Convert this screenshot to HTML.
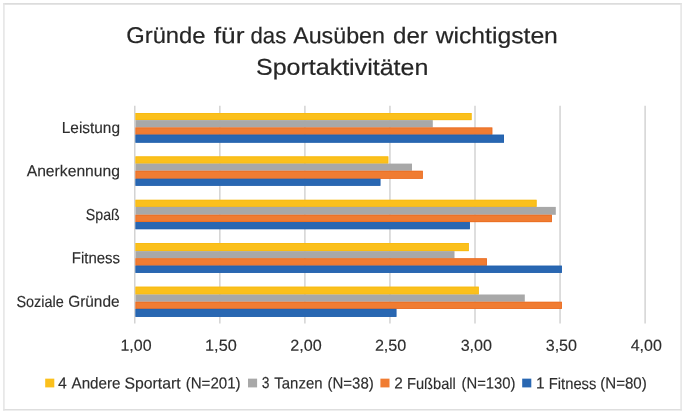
<!DOCTYPE html>
<html lang="de"><head><meta charset="utf-8"><title>Gründe für das Ausüben der wichtigsten Sportaktivitäten</title>
<style>
html,body{margin:0;padding:0;background:#fff;}
body{width:685px;height:414px;overflow:hidden;}
svg{display:block;}
text{font-family:"Liberation Sans",sans-serif;fill:#2d2d2d;stroke:#2d2d2d;stroke-width:0.15px;}
.t{font-size:22.8px;fill:#262626;stroke:#262626;stroke-width:0.2px;}
.l{font-size:15.85px;}
</style></head><body>
<svg width="685" height="414" viewBox="0 0 685 414">
<rect x="0" y="0" width="685" height="414" fill="#fff"/>
<g fill="none" stroke-linecap="square">
<line x1="3.9" y1="3.9" x2="681.1" y2="3.9" stroke="#dcdcdc" stroke-width="1.6"/>
<line x1="3.9" y1="409.8" x2="681.1" y2="409.8" stroke="#dedede" stroke-width="1.6"/>
<line x1="3.9" y1="3.9" x2="3.9" y2="409.8" stroke="#e4e4e4" stroke-width="1.5"/>
<line x1="681.1" y1="3.9" x2="681.1" y2="409.8" stroke="#e4e4e4" stroke-width="1.5"/>
</g>
<line x1="134.80" y1="105.8" x2="134.80" y2="323.4" stroke="#cccccc" stroke-width="1.3"/>
<line x1="219.85" y1="105.8" x2="219.85" y2="323.4" stroke="#cccccc" stroke-width="1.3"/>
<line x1="304.90" y1="105.8" x2="304.90" y2="323.4" stroke="#cccccc" stroke-width="1.3"/>
<line x1="389.95" y1="105.8" x2="389.95" y2="323.4" stroke="#cccccc" stroke-width="1.3"/>
<line x1="475.00" y1="105.8" x2="475.00" y2="323.4" stroke="#cccccc" stroke-width="1.3"/>
<line x1="560.05" y1="105.8" x2="560.05" y2="323.4" stroke="#cccccc" stroke-width="1.3"/>
<line x1="645.10" y1="105.8" x2="645.10" y2="323.4" stroke="#cccccc" stroke-width="1.3"/>
<rect x="135.5" y="113.00" width="336.1" height="7.10" fill="#FBC01C"/>
<rect x="135.9" y="113.40" width="335.3" height="6.30" fill="none" stroke="#F5B70C" stroke-width="0.8" stroke-opacity="0.75"/>
<rect x="135.5" y="120.10" width="297.3" height="7.40" fill="#A8A8A8"/>
<rect x="135.5" y="127.50" width="356.8" height="7.20" fill="#F07C32"/>
<rect x="135.9" y="127.90" width="356.0" height="6.40" fill="none" stroke="#E7671C" stroke-width="0.8" stroke-opacity="0.75"/>
<rect x="135.5" y="134.70" width="368.5" height="8.00" fill="#2967B2"/>
<rect x="135.9" y="135.10" width="367.7" height="7.20" fill="none" stroke="#2160AC" stroke-width="0.8" stroke-opacity="0.75"/>
<rect x="135.5" y="156.40" width="252.8" height="7.20" fill="#FBC01C"/>
<rect x="135.9" y="156.80" width="252.0" height="6.40" fill="none" stroke="#F5B70C" stroke-width="0.8" stroke-opacity="0.75"/>
<rect x="135.5" y="163.60" width="276.5" height="7.20" fill="#A8A8A8"/>
<rect x="135.5" y="170.80" width="287.3" height="8.00" fill="#F07C32"/>
<rect x="135.9" y="171.20" width="286.5" height="7.20" fill="none" stroke="#E7671C" stroke-width="0.8" stroke-opacity="0.75"/>
<rect x="135.5" y="178.80" width="244.9" height="7.00" fill="#2967B2"/>
<rect x="135.9" y="179.20" width="244.1" height="6.20" fill="none" stroke="#2160AC" stroke-width="0.8" stroke-opacity="0.75"/>
<rect x="135.5" y="199.80" width="401.1" height="7.10" fill="#FBC01C"/>
<rect x="135.9" y="200.20" width="400.3" height="6.30" fill="none" stroke="#F5B70C" stroke-width="0.8" stroke-opacity="0.75"/>
<rect x="135.5" y="206.90" width="420.3" height="7.90" fill="#A8A8A8"/>
<rect x="135.5" y="214.80" width="416.4" height="7.30" fill="#F07C32"/>
<rect x="135.9" y="215.20" width="415.6" height="6.50" fill="none" stroke="#E7671C" stroke-width="0.8" stroke-opacity="0.75"/>
<rect x="135.5" y="222.10" width="334.4" height="7.10" fill="#2967B2"/>
<rect x="135.9" y="222.50" width="333.6" height="6.30" fill="none" stroke="#2160AC" stroke-width="0.8" stroke-opacity="0.75"/>
<rect x="135.5" y="243.00" width="333.3" height="8.10" fill="#FBC01C"/>
<rect x="135.9" y="243.40" width="332.5" height="7.30" fill="none" stroke="#F5B70C" stroke-width="0.8" stroke-opacity="0.75"/>
<rect x="135.5" y="251.10" width="319.0" height="7.20" fill="#A8A8A8"/>
<rect x="135.5" y="258.30" width="351.4" height="7.40" fill="#F07C32"/>
<rect x="135.9" y="258.70" width="350.6" height="6.60" fill="none" stroke="#E7671C" stroke-width="0.8" stroke-opacity="0.75"/>
<rect x="135.5" y="265.70" width="426.4" height="7.20" fill="#2967B2"/>
<rect x="135.9" y="266.10" width="425.6" height="6.40" fill="none" stroke="#2160AC" stroke-width="0.8" stroke-opacity="0.75"/>
<rect x="135.5" y="286.70" width="343.3" height="7.80" fill="#FBC01C"/>
<rect x="135.9" y="287.10" width="342.5" height="7.00" fill="none" stroke="#F5B70C" stroke-width="0.8" stroke-opacity="0.75"/>
<rect x="135.5" y="294.50" width="389.3" height="7.30" fill="#A8A8A8"/>
<rect x="135.5" y="301.80" width="426.4" height="7.10" fill="#F07C32"/>
<rect x="135.9" y="302.20" width="425.6" height="6.30" fill="none" stroke="#E7671C" stroke-width="0.8" stroke-opacity="0.75"/>
<rect x="135.5" y="308.90" width="260.9" height="8.00" fill="#2967B2"/>
<rect x="135.9" y="309.30" width="260.1" height="7.20" fill="none" stroke="#2160AC" stroke-width="0.8" stroke-opacity="0.75"/>
<rect x="45.2" y="378.65" width="9.1" height="8.75" fill="#FBC01C"/>
<rect x="248.0" y="378.65" width="9.1" height="8.75" fill="#A8A8A8"/>
<rect x="380.4" y="378.65" width="9.1" height="8.75" fill="#F07C32"/>
<rect x="522.2" y="378.65" width="9.1" height="8.75" fill="#2967B2"/>
<text class="t" y="43.10" transform="rotate(0.03 127 43)"><tspan x="126.27" textLength="79.26" lengthAdjust="spacingAndGlyphs">Gründe</tspan> <tspan x="213.74" textLength="30.71" lengthAdjust="spacingAndGlyphs">für</tspan> <tspan x="250.51" textLength="35.71" lengthAdjust="spacingAndGlyphs">das</tspan> <tspan x="293.20" textLength="91.77" lengthAdjust="spacingAndGlyphs">Ausüben</tspan> <tspan x="393.02" textLength="34.74" lengthAdjust="spacingAndGlyphs">der</tspan> <tspan x="435.70" textLength="122.17" lengthAdjust="spacingAndGlyphs">wichtigsten</tspan></text>
<text class="t" y="74.85" transform="rotate(0.03 257 75)"><tspan x="255.99" textLength="172.33" lengthAdjust="spacingAndGlyphs">Sportaktivitäten</tspan></text>
<text class="l" y="132.90" transform="rotate(0.03 63 133)"><tspan x="61.76" textLength="58.27" lengthAdjust="spacingAndGlyphs">Leistung</tspan></text>
<text class="l" y="176.33" transform="rotate(0.03 27 176)"><tspan x="26.70" textLength="93.31" lengthAdjust="spacingAndGlyphs">Anerkennung</tspan></text>
<text class="l" y="219.76" transform="rotate(0.03 86 220)"><tspan x="85.83" textLength="33.90" lengthAdjust="spacingAndGlyphs">Spaß</tspan></text>
<text class="l" y="263.19" transform="rotate(0.03 73 263)"><tspan x="71.76" textLength="48.26" lengthAdjust="spacingAndGlyphs">Fitness</tspan></text>
<text class="l" y="306.62" transform="rotate(0.03 17 307)"><tspan x="16.38" textLength="47.33" lengthAdjust="spacingAndGlyphs">Soziale</tspan> <tspan x="68.23" textLength="51.34" lengthAdjust="spacingAndGlyphs">Gründe</tspan></text>
<text class="l" y="350.80" transform="rotate(0.03 122 351)"><tspan x="120.45" textLength="31.08" lengthAdjust="spacingAndGlyphs">1,00</tspan></text>
<text class="l" y="350.80" transform="rotate(0.03 206 351)"><tspan x="205.09" textLength="31.65" lengthAdjust="spacingAndGlyphs">1,50</tspan></text>
<text class="l" y="350.80" transform="rotate(0.03 291 351)"><tspan x="290.27" textLength="31.45" lengthAdjust="spacingAndGlyphs">2,00</tspan></text>
<text class="l" y="350.80" transform="rotate(0.03 376 351)"><tspan x="374.88" textLength="31.45" lengthAdjust="spacingAndGlyphs">2,50</tspan></text>
<text class="l" y="350.80" transform="rotate(0.03 461 351)"><tspan x="460.63" textLength="31.39" lengthAdjust="spacingAndGlyphs">3,00</tspan></text>
<text class="l" y="350.80" transform="rotate(0.03 546 351)"><tspan x="545.68" textLength="31.34" lengthAdjust="spacingAndGlyphs">3,50</tspan></text>
<text class="l" y="350.80" transform="rotate(0.03 631 351)"><tspan x="630.74" textLength="31.12" lengthAdjust="spacingAndGlyphs">4,00</tspan></text>
<text class="l" y="388.50" transform="rotate(0.03 58 388)"><tspan x="58.03" textLength="8.82" lengthAdjust="spacingAndGlyphs">4</tspan> <tspan x="71.50" textLength="49.06" lengthAdjust="spacingAndGlyphs">Andere</tspan> <tspan x="124.44" textLength="56.11" lengthAdjust="spacingAndGlyphs">Sportart</tspan> <tspan x="185.67" textLength="54.96" lengthAdjust="spacingAndGlyphs">(N=201)</tspan></text>
<text class="l" y="388.50" transform="rotate(0.03 262 388)"><tspan x="261.86" textLength="7.71" lengthAdjust="spacingAndGlyphs">3</tspan> <tspan x="274.30" textLength="48.22" lengthAdjust="spacingAndGlyphs">Tanzen</tspan> <tspan x="327.51" textLength="46.32" lengthAdjust="spacingAndGlyphs">(N=38)</tspan></text>
<text class="l" y="388.50" transform="rotate(0.03 395 388)"><tspan x="394.18" textLength="8.53" lengthAdjust="spacingAndGlyphs">2</tspan> <tspan x="406.96" textLength="48.88" lengthAdjust="spacingAndGlyphs">Fußball</tspan> <tspan x="461.52" textLength="53.96" lengthAdjust="spacingAndGlyphs">(N=130)</tspan></text>
<text class="l" y="388.50" transform="rotate(0.03 537 388)"><tspan x="536.04" textLength="8.61" lengthAdjust="spacingAndGlyphs">1</tspan> <tspan x="548.81" textLength="47.56" lengthAdjust="spacingAndGlyphs">Fitness</tspan> <tspan x="600.22" textLength="46.55" lengthAdjust="spacingAndGlyphs">(N=80)</tspan></text>
</svg></body></html>
